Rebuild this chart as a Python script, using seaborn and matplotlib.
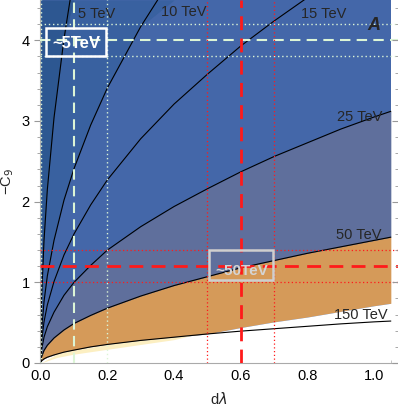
import numpy as np
import pandas as pd
import matplotlib
matplotlib.use("Agg")
import matplotlib.pyplot as plt
import seaborn as sns
from matplotlib.patches import Rectangle
from matplotlib.ticker import MultipleLocator

d_lambda = [0, 0.001, 0.003, 0.01, 0.02, 0.04, 0.07, 0.1, 0.15, 0.2,
            0.3, 0.4, 0.5, 0.6, 0.7, 0.8, 0.9, 1.0, 1.05]

# -C9 along each mass contour
c9_5tev = [0, 0.48, 0.83, 1.52, 2.15, 3.04, 4.02, 4.81, 5.89, 6.80,
           8.32, 9.61, 10.75, 11.77, 12.72, 13.60, 14.42, 15.20, 15.58]
c9_10tev = [0, 0.24, 0.42, 0.76, 1.08, 1.52, 2.02, 2.41, 2.95, 3.41,
            4.17, 4.82, 5.39, 5.90, 6.38, 6.82, 7.23, 7.62, 7.81]
c9_15tev = [0, 0.16, 0.28, 0.51, 0.72, 1.01, 1.34, 1.60, 1.96, 2.27,
            2.78, 3.21, 3.58, 3.93, 4.24, 4.53, 4.81, 5.07, 5.20]
c9_25tev = [0, 0.10, 0.17, 0.32, 0.45, 0.63, 0.84, 1.00, 1.21, 1.40,
            1.69, 1.94, 2.16, 2.37, 2.56, 2.73, 2.90, 3.05, 3.12]
c9_50tev = [0, 0.05, 0.08, 0.155, 0.22, 0.31, 0.41, 0.49, 0.59, 0.68,
            0.83, 0.96, 1.07, 1.18, 1.27, 1.36, 1.44, 1.52, 1.56]
c9_150tev = [0, 0.016, 0.028, 0.051, 0.072, 0.10, 0.135, 0.16, 0.20, 0.23,
             0.28, 0.32, 0.36, 0.395, 0.425, 0.455, 0.485, 0.51, 0.52]

# lower edge of the orange band
c9_orange_low = [0, 0.016, 0.028, 0.051, 0.072, 0.10, 0.135, 0.16, 0.20, 0.23,
                 0.28, 0.32, 0.36, 0.44, 0.51, 0.57, 0.64, 0.71, 0.74]

# thin light yellow strip under the 150 TeV line
yellow_x = [0, 0.05, 0.1, 0.2, 0.3, 0.4, 0.46]
yellow_low = [0, 0.07, 0.11, 0.17, 0.23, 0.29, 0.35]
yellow_high = [0, 0.115, 0.16, 0.23, 0.28, 0.32, 0.35]

curve_names = ['5 TeV', '10 TeV', '15 TeV', '25 TeV', '50 TeV', '150 TeV']
curve_values = [c9_5tev, c9_10tev, c9_15tev, c9_25tev, c9_50tev, c9_150tev]
label_x = [0.111, 0.36, 0.782, 0.89, 0.887, 0.88]
label_y = [4.33, 4.35, 4.33, 3.05, 1.59, 0.60]

# benchmark points: (dlambda, -C9) with errors
bench_5 = (0.1, 4.0, 0.1, 0.2)
bench_50 = (0.6, 1.2, 0.1, 0.2)

y_top = 4.5

# Colours
col_dark = '#2d5791'
col_mid = '#3961a0'
col_base = '#4467a9'
col_grey = '#5f6f9c'
col_orange = '#d59a59'
col_yellow = '#fcefc2'
col_mint = '#dcf5d6'
col_red = '#ff1a1a'

sns.set_style('white')
plt.rcParams['font.family'] = ['Liberation Sans', 'DejaVu Sans']

fig = plt.figure(figsize=(3.98, 4.08), dpi=100)
ax = fig.add_axes([40 / 398, 45 / 408, 357.5 / 398, 363 / 408])

x = np.array(d_lambda)
top = np.full(len(x), y_top)

# Filled regions
ax.fill_between(x, 0, top, color=col_base, lw=0, zorder=1)
ax.fill_between(x, np.clip(c9_10tev, 0, y_top), np.clip(c9_5tev, 0, y_top),
                color=col_mid, lw=0, zorder=1)
ax.fill_between(x, np.clip(c9_5tev, 0, y_top), top, color=col_dark, lw=0, zorder=1)
ax.fill_between(x, c9_50tev, c9_25tev, color=col_grey, lw=0, zorder=1)
ax.fill_between(x, c9_orange_low, c9_50tev, color=col_orange, lw=0, zorder=1)
ax.fill_between(x, 0, c9_orange_low, color='white', lw=0, zorder=1)
ax.fill_between(yellow_x, yellow_low, yellow_high, color=col_yellow, lw=0, zorder=1)

# Contour lines
df = pd.DataFrame({
    'dlambda': np.tile(x, len(curve_names)),
    'c9': np.concatenate(curve_values),
    'scale': np.repeat(curve_names, len(x)),
})
sns.lineplot(data=df, x='dlambda', y='c9', units='scale', estimator=None,
             color='black', lw=0.8, ax=ax, zorder=2, legend=False)

for name, lx, ly in zip(curve_names, label_x, label_y):
    ax.text(lx, ly, name, fontsize=10.5, ha='left', va='center', zorder=5)

# Benchmark lines
for bx, by, dx, dy, col, dash_lw, dot_lw in [(*bench_5, col_mint, 1.5, 1.0),
                                             (*bench_50, col_red, 2.0, 0.9)]:
    ax.axvline(bx, color=col, lw=dash_lw, ls=(0, (5, 3)), zorder=3)
    ax.axhline(by, color=col, lw=dash_lw, ls=(0, (5, 3)), zorder=3)
    for v in (bx - dx, bx + dx):
        ax.axvline(v, color=col, lw=dot_lw, ls=(0, (1, 2)), zorder=3)
    for h in (by - dy, by + dy):
        ax.axhline(h, color=col, lw=dot_lw, ls=(0, (1, 2)), zorder=3)

# Boxes with the scale estimates
ax.add_patch(Rectangle((0.015, 3.80), 0.18, 0.35, fill=False, ec='white',
                       lw=1.8, zorder=4))
ax.text(0.108, 3.96, '~5TeV', color='white', fontsize=12, fontweight='bold',
        ha='center', va='center', zorder=5)
ax.add_patch(Rectangle((0.505, 1.025), 0.192, 0.37, fill=False, ec='#cfcfcf',
                       lw=1.8, zorder=4))
ax.text(0.603, 1.14, '~50TeV', color='#d4d4d4', fontsize=11, fontweight='bold',
        ha='center', va='center', zorder=5)

ax.text(0.998, 4.19, 'A', fontsize=13, fontweight='bold', fontstyle='italic',
        ha='center', va='center', zorder=5)

# Formatting
ax.set_xlim(-0.002, 1.07)
ax.set_ylim(0, y_top)
ax.set_xticks([0, 0.2, 0.4, 0.6, 0.8, 1.0])
ax.set_xticklabels(['0.0', '0.2', '0.4', '0.6', '0.8', '1.0'])
ax.set_yticks([0, 1, 2, 3, 4])
ax.xaxis.set_minor_locator(MultipleLocator(0.05))
ax.yaxis.set_minor_locator(MultipleLocator(0.2))
ax.tick_params(axis='x', which='both', direction='in', bottom=True, top=False,
               colors='#999999', labelcolor='black', labelsize=10.5, pad=4)
ax.tick_params(axis='y', which='both', direction='out', left=True, right=False,
               colors='#999999', labelcolor='black', labelsize=10.5)
ax.tick_params(which='major', length=4, width=0.8)
ax.tick_params(which='minor', length=2, width=0.6)
ax.set_xlabel('d$\\lambda$', fontsize=10.5, labelpad=6)
ax.set_ylabel('\u2212C$_9$', fontsize=10.5, labelpad=4)
for side in ['top', 'right']:
    ax.spines[side].set_visible(False)
for side in ['left', 'bottom']:
    ax.spines[side].set_color('#aaaaaa')
    ax.spines[side].set_linewidth(0.8)

# Short frame ticks on the right edge, as in the original
ax_r = ax.twinx()
ax_r.set_ylim(0, y_top)
ax_r.set_yticks([0, 1, 2, 3, 4])
ax_r.yaxis.set_minor_locator(MultipleLocator(0.2))
ax_r.tick_params(axis='y', which='both', direction='in', colors='#999999',
                 labelright=False)
ax_r.tick_params(which='major', length=4, width=0.8)
ax_r.tick_params(which='minor', length=2, width=0.6)
for side in ['top', 'right', 'left', 'bottom']:
    ax_r.spines[side].set_visible(False)
ax_r.grid(False)

fig.savefig('out.png', dpi=100)
